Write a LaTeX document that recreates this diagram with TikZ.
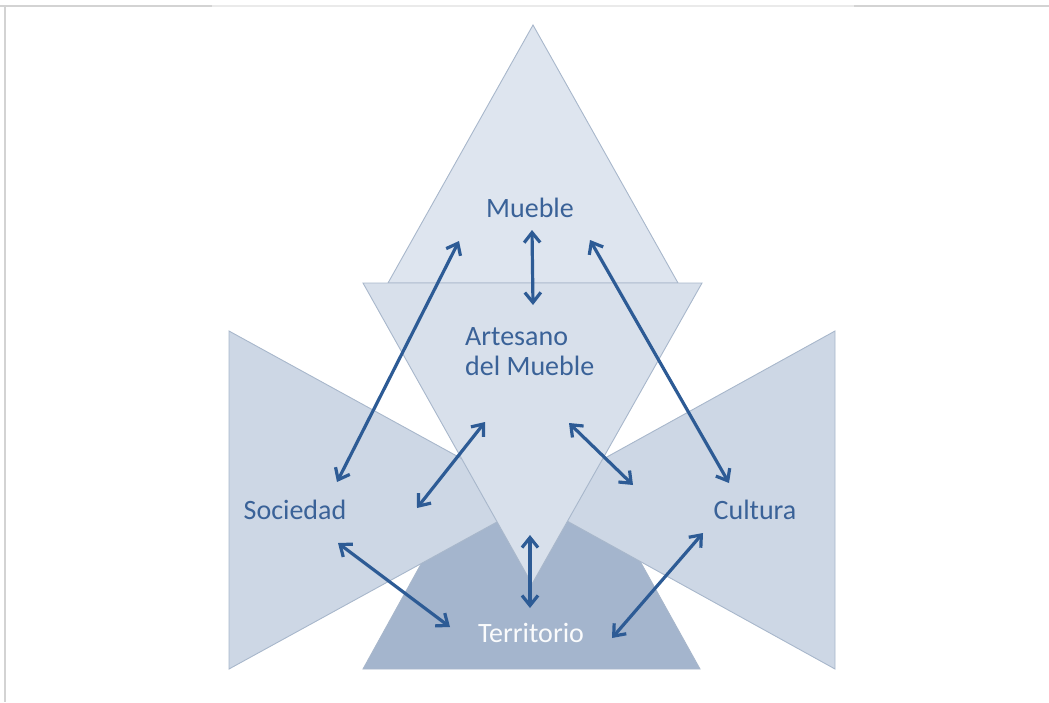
\documentclass[tikz,border=0pt]{standalone}
\usepackage{fontspec}
\setmainfont{Carlito}
\usetikzlibrary{arrows.meta}

\definecolor{frameline}{HTML}{D3D3D3}
\definecolor{framelight}{HTML}{EAEAEA}
\definecolor{edge}{HTML}{A8B7CB}
\definecolor{topfill}{HTML}{DEE5EF}
\definecolor{midfill}{HTML}{D8E0EB}
\definecolor{sidefill}{HTML}{CDD7E5}
\definecolor{lowfill}{HTML}{A4B5CD}
\definecolor{arrblue}{HTML}{2D5B95}
\definecolor{txtblue}{HTML}{3A6298}

\begin{document}
\begin{tikzpicture}[x=1pt,y=-1pt,
  tri/.style={draw=edge,line width=0.9pt,line join=miter},
  arr/.style={{Straight Barb[length=10pt,width=16pt]}-{Straight Barb[length=10pt,width=16pt]},
    line width=3.2pt,draw=arrblue},
  lbl/.style={font=\fontsize{28}{30}\selectfont,text=txtblue,inner sep=0pt}]

\useasboundingbox (0,0) rectangle (1049,702);

\draw[frameline,line width=2pt] (0,6) -- (1049,6);
\draw[framelight,line width=2pt] (212,6) -- (854,6);
\draw[frameline,line width=2pt] (5,6) -- (5,702);

\coordinate (T1) at (533,25);
\coordinate (T2) at (388,283);
\coordinate (T3) at (678,283);
\coordinate (M1) at (363,283);
\coordinate (M2) at (702,283);
\coordinate (M3) at (532,584);
\coordinate (L1) at (229,331);
\coordinate (L2) at (229,669);
\coordinate (L3) at (537,500);
\coordinate (R1) at (835,331);
\coordinate (R2) at (835,669);
\coordinate (R3) at (529,500);
\coordinate (B1) at (363,669);
\coordinate (B2) at (700,669);
\coordinate (B3) at (531,365);

\draw[tri,fill=lowfill] (B1)--(B2)--(B3)--cycle;
\draw[tri,fill=sidefill] (L1)--(L2)--(L3)--cycle;
\draw[tri,fill=sidefill] (R1)--(R2)--(R3)--cycle;
\draw[tri,fill=topfill] (T1)--(T2)--(T3)--cycle;
\draw[tri,fill=midfill] (M1)--(M2)--(M3)--cycle;

\node[lbl,anchor=base] (mueble) at (530,217) {Mueble};
\node[lbl,anchor=base west,align=left] (artesano) at (465,375) {Artesano\\del Mueble};
\node[lbl,anchor=base] (sociedad) at (295,519) {Sociedad};
\node[lbl,anchor=base] (cultura) at (755,519) {Cultura};
\node[lbl,anchor=base,text=white!95!lowfill] (territorio) at (531,642) {Territorio};

\coordinate (mu-c) at (532,230);
\coordinate (mu-l) at (459,241);
\coordinate (mu-r) at (590,240);
\coordinate (ar-t) at (533,305);
\coordinate (ar-l) at (485,422);
\coordinate (ar-r) at (569,423);
\coordinate (ar-b) at (530,535);
\coordinate (so-t) at (337,482);
\coordinate (so-r) at (417,508);
\coordinate (so-b) at (338,543);
\coordinate (cu-t) at (729,483);
\coordinate (cu-l) at (633,485);
\coordinate (cu-b) at (703,533);
\coordinate (te-t) at (530,608);
\coordinate (te-l) at (450,627);
\coordinate (te-r) at (612,638);

\draw[arr] (mu-c) -- (ar-t);
\draw[arr] (mu-l) -- (so-t);
\draw[arr] (mu-r) -- (cu-t);
\draw[arr] (ar-l) -- (so-r);
\draw[arr] (ar-r) -- (cu-l);
\draw[arr] (ar-b) -- (te-t);
\draw[arr] (so-b) -- (te-l);
\draw[arr] (cu-b) -- (te-r);

\end{tikzpicture}
\end{document}
